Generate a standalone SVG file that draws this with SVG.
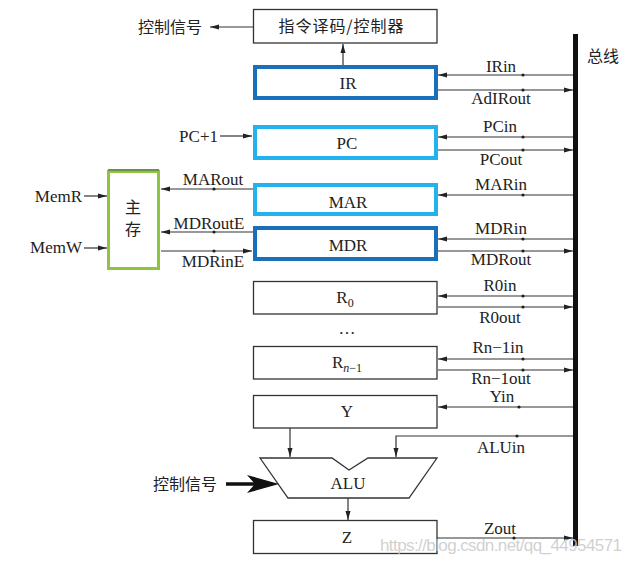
<svg xmlns="http://www.w3.org/2000/svg" width="631" height="563" viewBox="0 0 631 563">
<style>
.box{fill:#fff;stroke:#333;stroke-width:1.3}
.dk{fill:#fff;stroke:#1a70b8;stroke-width:4}
.lt{fill:#fff;stroke:#22b2ee;stroke-width:4}
.ln{fill:none;stroke:#333;stroke-width:1.2}
.t{font-family:"Liberation Serif","Times New Roman",serif;font-size:17px;fill:#222}
.m{text-anchor:middle}
.e{text-anchor:end}
.c{font-family:"Noto Sans CJK SC","Noto Sans CJK JP",sans-serif;font-size:16px;fill:#222}
.dot{fill:#222}
</style>
<defs>
<marker id="a" markerUnits="userSpaceOnUse" markerWidth="9" markerHeight="6" refX="9" refY="3" orient="auto">
<path d="M0,0.5 L9,3 L0,5.5 z" fill="#222"/>
</marker>
</defs>
<rect x="0" y="0" width="631" height="563" fill="#fff"/>

<g id="bus">
<rect x="573" y="34" width="5" height="512" fill="#111"/>
<text class="c m" x="603" y="62">总线</text>
</g>

<g id="decoder">
<rect class="box" x="253.5" y="9.5" width="183.5" height="33.5"/>
<text class="c m" x="341" y="32" font-size="17" textLength="125">指令译码/控制器</text>
</g>
<g id="IR"><rect class="dk" x="255" y="67" width="181" height="31"/><text class="t m" x="348" y="89">IR</text></g>
<g id="PC"><rect class="lt" x="255" y="127" width="181" height="31"/><text class="t m" x="347" y="149">PC</text></g>
<g id="MAR"><rect class="lt" x="255" y="185" width="181" height="29"/><text class="t m" x="348" y="208">MAR</text></g>
<g id="MDR"><rect class="dk" x="255" y="228" width="181" height="31"/><text class="t m" x="348" y="251">MDR</text></g>
<g id="R0"><rect class="box" x="253.5" y="281.5" width="183.5" height="32.5"/><text class="t m" x="345" y="303">R<tspan font-size="12" dy="4">0</tspan></text></g>
<g id="dots"><text class="t m" x="347" y="334">…</text></g>
<g id="Rn1"><rect class="box" x="253.5" y="346.5" width="183.5" height="32.5"/><text class="t m" x="347" y="368">R<tspan font-size="12" dy="4"><tspan font-style="italic">n</tspan>−1</tspan></text></g>
<g id="Y"><rect class="box" x="253.5" y="395.5" width="183.5" height="32.5"/><text class="t m" x="347" y="417">Y</text></g>
<g id="ALU"><polygon class="box" points="260,458 332,458 349,470 368,458 437,458 409,498 288,498"/><text class="t m" x="348" y="489">ALU</text></g>
<g id="Z"><rect class="box" x="253.5" y="520.5" width="183.5" height="33"/><text class="t m" x="347" y="543">Z</text></g>
<g id="mem">
<rect x="108.5" y="171.5" width="50" height="97" fill="#fff" stroke="#8cc63f" stroke-width="3"/>
<line x1="108" y1="169.8" x2="159" y2="169.8" stroke="#555" stroke-width="1.2"/>
<text class="c m" x="133" y="213" font-size="17">主</text>
<text class="c m" x="133" y="235" font-size="17">存</text>
</g>

<g id="connectors">
<line class="ln" x1="253" y1="27" x2="210" y2="27" marker-end="url(#a)"/>
<line class="ln" x1="343" y1="65" x2="343" y2="44" marker-end="url(#a)"/>
<line class="ln" x1="573" y1="75" x2="438" y2="75" marker-end="url(#a)"/>
<line class="ln" x1="438" y1="90" x2="573" y2="90" marker-end="url(#a)"/>
<line class="ln" x1="573" y1="137" x2="438" y2="137" marker-end="url(#a)"/>
<line class="ln" x1="438" y1="150" x2="573" y2="150" marker-end="url(#a)"/>
<line class="ln" x1="220" y1="136" x2="252" y2="136" marker-end="url(#a)"/>
<line class="ln" x1="573" y1="195" x2="438" y2="195" marker-end="url(#a)"/>
<line class="ln" x1="573" y1="239" x2="438" y2="239" marker-end="url(#a)"/>
<line class="ln" x1="438" y1="251" x2="573" y2="251" marker-end="url(#a)"/>
<line class="ln" x1="573" y1="296" x2="438" y2="296" marker-end="url(#a)"/>
<line class="ln" x1="438" y1="307" x2="573" y2="307" marker-end="url(#a)"/>
<line class="ln" x1="573" y1="359" x2="438" y2="359" marker-end="url(#a)"/>
<line class="ln" x1="438" y1="370" x2="573" y2="370" marker-end="url(#a)"/>
<line class="ln" x1="573" y1="407" x2="438" y2="407" marker-end="url(#a)"/>
<polyline class="ln" points="573,436 396,436 396,457" marker-end="url(#a)"/>
<line class="ln" x1="290" y1="428" x2="290" y2="457" marker-end="url(#a)"/>
<line class="ln" x1="348" y1="498" x2="348" y2="520" marker-end="url(#a)"/>
<line class="ln" x1="437" y1="538" x2="573" y2="538" marker-end="url(#a)"/>
<line class="ln" x1="253" y1="189" x2="161" y2="189" marker-end="url(#a)"/>
<line class="ln" x1="253" y1="232" x2="161" y2="232" marker-end="url(#a)"/>
<line class="ln" x1="161" y1="251" x2="252" y2="251" marker-end="url(#a)"/>
<line class="ln" x1="84" y1="196" x2="107" y2="196" marker-end="url(#a)"/>
<line class="ln" x1="84" y1="248" x2="107" y2="248" marker-end="url(#a)"/>
<line x1="226" y1="484" x2="256" y2="484" stroke="#111" stroke-width="3.5"/>
<path d="M279,484 L247,475 L255,484 L247,493 Z" fill="#111"/>
<g class="dot">
<circle cx="523" cy="75" r="1.6"/><circle cx="523" cy="90" r="1.6"/>
<circle cx="523" cy="137" r="1.6"/><circle cx="523" cy="150" r="1.6"/>
<circle cx="523" cy="195" r="1.6"/><circle cx="523" cy="239" r="1.6"/><circle cx="523" cy="251" r="1.6"/>
<circle cx="523" cy="296" r="1.6"/><circle cx="523" cy="307" r="1.6"/>
<circle cx="523" cy="359" r="1.6"/><circle cx="523" cy="370" r="1.6"/>
<circle cx="519" cy="407" r="1.6"/><circle cx="517" cy="436" r="1.6"/><circle cx="514" cy="538" r="1.6"/>
<circle cx="214" cy="189" r="1.6"/><circle cx="214" cy="232" r="1.6"/><circle cx="214" cy="251" r="1.6"/>
</g>
</g>

<g id="labels">
<text class="c" x="138" y="33" font-size="17">控制信号</text>
<text class="c" x="153" y="490" font-size="17">控制信号</text>
<text class="t e" x="218" y="142">PC+1</text>
<text class="t e" x="82" y="202">MemR</text>
<text class="t e" x="82" y="253">MemW</text>
<text class="t m" x="213" y="185">MARout</text>
<text class="t m" x="209" y="229">MDRoutE</text>
<text class="t m" x="213" y="267">MDRinE</text>
<text class="t m" x="501" y="72">IRin</text>
<text class="t m" x="501" y="104">AdIRout</text>
<text class="t m" x="500" y="132">PCin</text>
<text class="t m" x="501" y="165">PCout</text>
<text class="t m" x="501" y="190">MARin</text>
<text class="t m" x="501" y="234">MDRin</text>
<text class="t m" x="501" y="265">MDRout</text>
<text class="t m" x="500" y="291">R0in</text>
<text class="t m" x="500" y="323">R0out</text>
<text class="t m" x="498" y="353">Rn−1in</text>
<text class="t m" x="501" y="384">Rn−1out</text>
<text class="t m" x="502" y="402">Yin</text>
<text class="t m" x="501" y="453">ALUin</text>
<text class="t m" x="500" y="534">Zout</text>
</g>
<text x="380" y="551" font-family="Liberation Sans, Arial, sans-serif" font-size="17" fill="#c8c8c8" fill-opacity="0.85" textLength="242">https://blog.csdn.net/qq_44954571</text>
</svg>
